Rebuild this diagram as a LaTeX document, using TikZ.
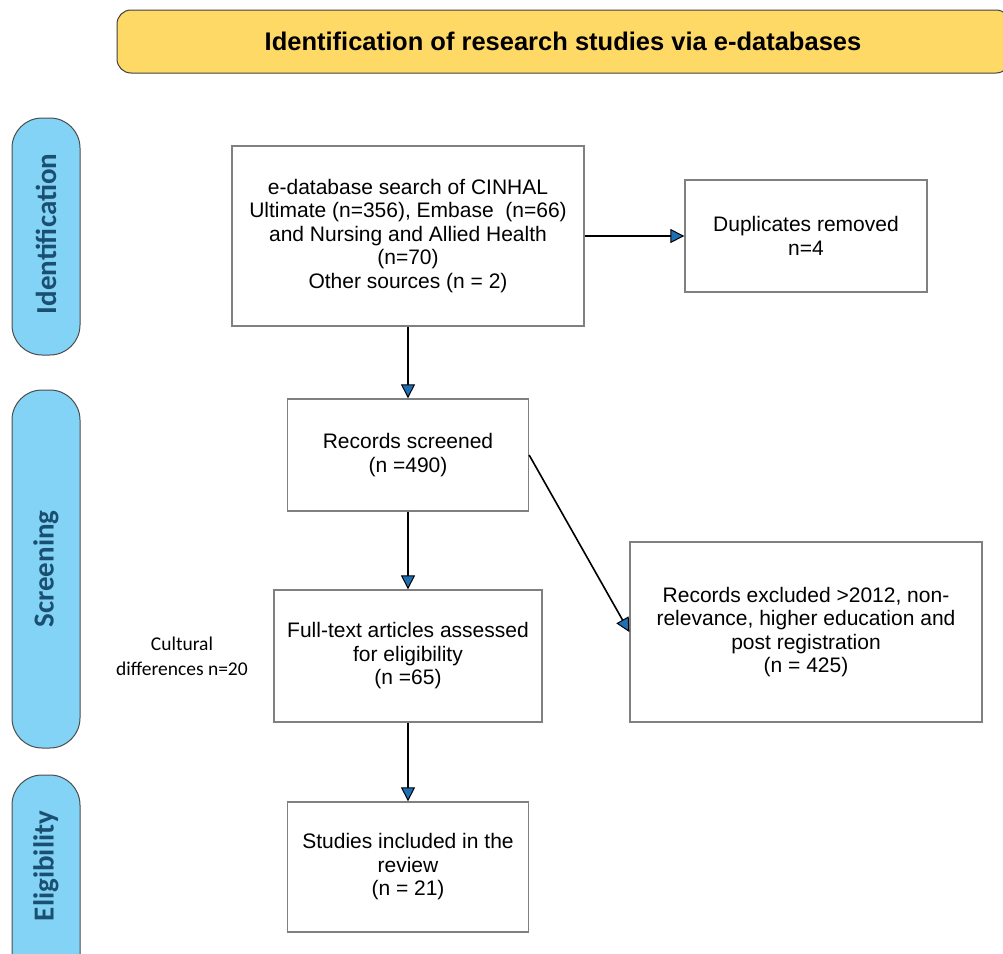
\documentclass[tikz,border=0pt]{standalone}
\usepackage{fontspec}
\setmainfont{Liberation Sans}
\newfontfamily\calfont{Carlito}
\usetikzlibrary{arrows.meta}
\definecolor{banner}{HTML}{FFD966}
\definecolor{pill}{HTML}{82D3F5}
\definecolor{pilltext}{HTML}{1B4F72}
\definecolor{boxline}{HTML}{808080}
\definecolor{arrowblue}{HTML}{1F6FB5}
\tikzset{
  box/.style={draw=boxline, line width=1.3pt, fill=white, align=center, font=\fontsize{21}{23.5}\selectfont, inner sep=0pt},
  pillbox/.style={draw=black!70, line width=1pt, fill=pill, rounded corners=30pt},
  pilllabel/.style={rotate=90, text=pilltext, font=\calfont\fontsize{29}{32}\bfseries\selectfont},
  arr/.style={line width=1.6pt, -{Triangle[length=14pt, width=14pt, fill=arrowblue, line width=1pt]}},
}
\begin{document}
\begin{tikzpicture}[x=1pt, y=-1pt]
\useasboundingbox (0,0) rectangle (1003,953);
% banner
\draw[draw=black!75, line width=1pt, fill=banner, rounded corners=14pt] (117,10) rectangle (1010,73);
\node[font=\fontsize{25.5}{28}\bfseries\selectfont] (title) at (563,41) {Identification of research studies via e-databases};
% side pills
\draw[pillbox] (12,118) rectangle (80,355);
\node[pilllabel] (lid) at (46,234) {Identification};
\draw[pillbox] (12,390) rectangle (80,748);
\node[pilllabel] (lsc) at (46,569) {Screening};
\draw[pillbox] (12,775) rectangle (80,985);
\node[pilllabel] (lel) at (46,866) {Eligibility};
% boxes
\node[box, minimum width=352pt, minimum height=180pt] (search) at (408,236) {e-database search of CINHAL\\Ultimate (n=356), Embase\ \ (n=66)\\and Nursing and Allied Health\\(n=70)\\Other sources (n = 2)};
\node[box, minimum width=242pt, minimum height=112pt] (dup) at (806,236) {Duplicates removed\\n=4};
\node[box, minimum width=241pt, minimum height=112pt] (screen) at (408,455) {Records screened\\(n =490)};
\node[box, minimum width=268pt, minimum height=132pt] (full) at (408,656) {Full-text articles assessed\\for eligibility\\(n =65)};
\node[box, minimum width=352pt, minimum height=180pt] (excl) at (806,632) {Records excluded \textgreater2012, non-\\relevance, higher education and\\post registration\\(n = 425)};
\node[box, minimum width=241pt, minimum height=130pt] (incl) at (408,867) {Studies included in the\\review\\(n = 21)};
\node[align=center, font=\calfont\fontsize{19.5}{25}\selectfont] (cult) at (182,656) {Cultural\\differences n=20};
% arrows
\draw[arr] (search.east) -- (dup.west);
\draw[arr] (search.south) -- (screen.north);
\draw[arr] (screen.south) -- (full.north);
\draw[arr] (screen.east) -- (excl.west);
\draw[arr] (full.south) -- (incl.north);
\end{tikzpicture}
\end{document}
